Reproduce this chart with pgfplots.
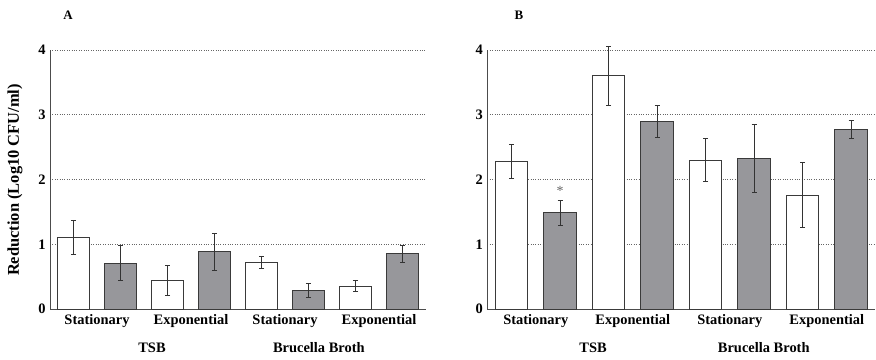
\documentclass[border=0pt]{standalone}
\usepackage{pgfplots}
\pgfplotsset{compat=1.18}
\usepackage{fontspec}
\setmainfont{Liberation Serif}
\definecolor{barg}{HTML}{97979B}
\definecolor{edge}{HTML}{3A3A3A}
\begin{document}
\begin{tikzpicture}
\useasboundingbox (0bp,0bp) rectangle (876bp,360bp);
\pgfplotsset{
 panel/.style={scale only axis, anchor=south west, height=259bp,
  ymin=0, ymax=4, xmin=-0.5, xmax=7.5,
  axis x line*=bottom, axis y line*=left,
  axis line style={draw=black!70, line width=0.9pt, -},
  ytick={0,1,2,3,4},
  /pgf/number format/assume math mode=true,
  yticklabel style={font=\fontsize{14.5}{14.5}\selectfont\bfseries, xshift=-1bp},
  ymajorgrids, grid style={dash pattern=on 0.8bp off 1.6bp, black!60, line width=0.7pt},
  xtick={0.5,2.5,4.5,6.5},
  xticklabels={Stationary,Exponential,Stationary,Exponential},
  xticklabel style={font=\fontsize{14.5}{14.5}\selectfont\bfseries, yshift=-2bp},
  major tick length=0pt, clip=false,
  ybar, bar width=0.67, bar shift=0pt,
 },
 barerr/.style={draw=edge, line width=0.9pt,
  error bars/.cd, y dir=both, y explicit,
  error bar style={draw=black!80, line width=0.8pt},
  error mark options={rotate=90, mark size=2.5bp, line width=0.8pt, draw=black!80}},
}
% Panel A
\begin{axis}[panel, at={(50bp,51bp)}, width=376bp]
\addplot[fill=white, barerr] coordinates {
 (0,1.11) +- (0,0.26)
 (2,0.44) +- (0,0.23)
 (4,0.72) +- (0,0.09)
 (6,0.355) +- (0,0.09)
};
\addplot[fill=barg, barerr] coordinates {
 (1,0.71) +- (0,0.275)
 (3,0.885) +- (0,0.29)
 (5,0.288) +- (0,0.11)
 (7,0.855) +- (0,0.13)
};
\node[font=\fontsize{14.5}{14.5}\selectfont\bfseries] at (axis cs:1.67,-0.6) {TSB};
\node[font=\fontsize{14.5}{14.5}\selectfont\bfseries] at (axis cs:5.22,-0.6) {Brucella Broth};
\end{axis}
% Panel B
\begin{axis}[panel, at={(487.3bp,51bp)}, width=388bp]
\addplot[fill=white, barerr] coordinates {
 (0,2.28) +- (0,0.265)
 (2,3.60) +- (0,0.45)
 (4,2.30) +- (0,0.33)
 (6,1.76) +- (0,0.50)
};
\addplot[fill=barg, barerr] coordinates {
 (1,1.485) +- (0,0.19)
 (3,2.90) +- (0,0.245)
 (5,2.325) +- (0,0.53)
 (7,2.77) +- (0,0.14)
};
\node[font=\fontsize{14}{14}\selectfont, text=black!60] at (axis cs:1,1.83) {*};
\node[font=\fontsize{14.5}{14.5}\selectfont\bfseries] at (axis cs:1.68,-0.6) {TSB};
\node[font=\fontsize{14.5}{14.5}\selectfont\bfseries] at (axis cs:5.2,-0.6) {Brucella Broth};
\end{axis}
\node[font=\fontsize{13}{13}\selectfont\bfseries] at (68bp,345bp) {A};
\node[font=\fontsize{13}{13}\selectfont\bfseries] at (519bp,345bp) {B};
\node[font=\fontsize{16.5}{16.5}\selectfont\bfseries, rotate=90] at (15bp,180bp) {Reduction (Log10 CFU/ml)};
\end{tikzpicture}
\end{document}
